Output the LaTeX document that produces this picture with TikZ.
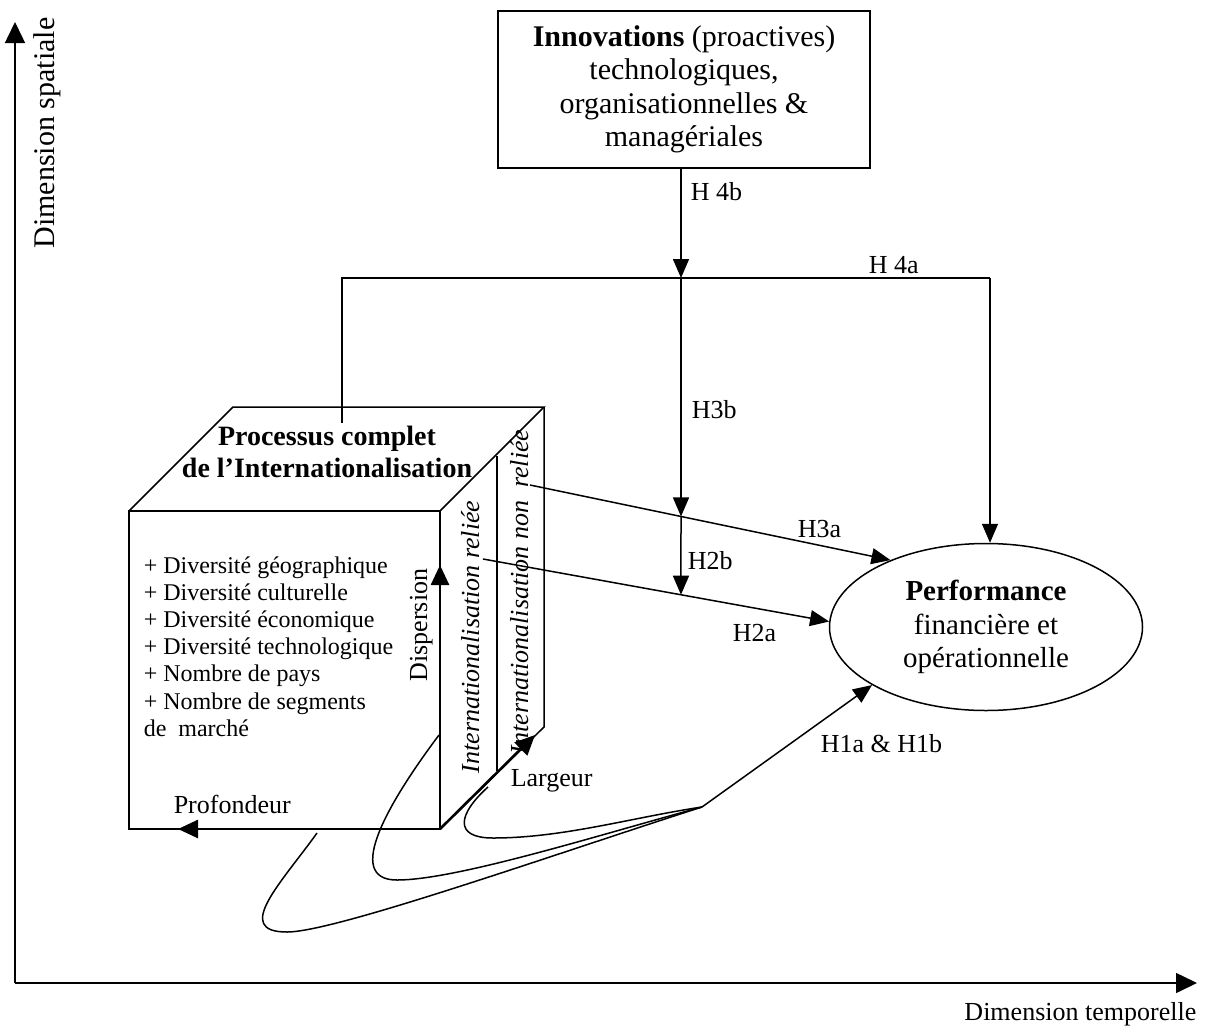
\documentclass[tikz,border=0pt]{standalone}
\usepackage{fontspec}
\setmainfont{Liberation Serif}
\usetikzlibrary{arrows.meta,calc,positioning,shapes.geometric}
\newcommand{\fsz}[2]{\fontsize{#1}{#2}\selectfont}

\begin{document}
\begin{tikzpicture}[x=1pt, y=-1pt, line width=1.5pt,
    every node/.style={inner sep=0pt, font=\fsz{26}{30}},
    hyp/.style={-{Triangle[length=19pt,width=16pt]}},
    dimaxis/.style={-{Triangle[length=21pt,width=20pt]}},
    cubearrow/.style={line width=2.6pt, -{Triangle[length=20pt,width=18pt]}},
    item/.style={anchor=base west, font=\fsz{24}{27}},
    bigtxt/.style={align=center, font=\fsz{30}{33.5}},
    sidetxt/.style={rotate=90, anchor=base, font=\itshape\fsz{26}{30}}]
  \useasboundingbox (0,0) rectangle (1207,1028);

  % axes
  \coordinate (O) at (15,983);
  \coordinate (ytop) at (15,22);
  \coordinate (xend) at (1197,983);
  \draw[dimaxis] (O) -- (ytop);
  \draw[dimaxis] (O) -- (xend);
  \node[rotate=90, anchor=base, font=\fsz{30}{34}] (dimsp) at (54,133) {Dimension spatiale};
  \node[anchor=base east] (dimtp) at (1197,1020) {Dimension temporelle};

  % cube
  \coordinate (A) at (129,829);
  \coordinate (B) at (440,829);
  \coordinate (C) at (440,511);
  \coordinate (D) at (129,511);
  \coordinate (E) at (233,407);
  \coordinate (G) at (544,407);
  \coordinate (H) at (544,727);
  \draw (A) -- (B) -- (C) -- (D) -- cycle;
  \draw (D) -- (E) -- (G) -- (C);
  \draw (G) -- (H) -- (B);
  \draw (497,456) -- (497,771);
  \coordinate (prof) at (178,829);
  \coordinate (disp) at (440,565);
  \coordinate (larg) at (535,735);
  \draw[cubearrow] (B) -- (prof);
  \draw[cubearrow] (B) -- (disp);
  \draw[cubearrow] (B) -- (larg);

  \node[font=\fsz{28}{32}\bfseries, anchor=base] (title1) at (327,445) {Processus complet};
  \node[font=\fsz{28}{32}\bfseries, anchor=base] (title2) at (327,477) {de l’Internationalisation};
  \foreach \t [count=\i from 0] in {+ Diversité géographique, + Diversité culturelle,
      + Diversité économique, + Diversité technologique, + Nombre de pays,
      + Nombre de segments, de\ \ marché}
    \node[item] (item\i) at (143,573+27.2*\i) {\t};
  \node[rotate=90, anchor=base] (displbl) at (427,625) {Dispersion};
  \node[sidetxt] (intrel) at (479,637) {Internationalisation reliée};
  \node[sidetxt] (intnon) at (528,592) {Internationalisation non\ \ reliée};
  \node[anchor=base west] (larglbl) at (510,786) {Largeur};
  \node[anchor=base west] (proflbl) at (173,813) {Profondeur};

  % innovations and performance
  \node[draw, bigtxt, minimum width=372pt, minimum height=157pt] (inno) at (684,89.5)
    {\textbf{Innovations} (proactives)\\technologiques,\\organisationnelles \&\\managériales};
  \node[draw, ellipse, bigtxt, font=\fsz{29}{33.5}, minimum width=313pt, minimum height=167pt] (perf) at (986,627)
    {\textbf{Performance}\\financière et\\opérationnelle};

  % hypotheses
  \coordinate (J4) at (681,278);
  \coordinate (Jb) at (681,700);
  \coordinate (L) at (342,278);
  \coordinate (R) at (990,278);
  \coordinate (Lc) at (342,423);
  \coordinate (s3) at (530,485);
  \coordinate (s2) at (483,559);
  \coordinate (t3) at (perf.145);
  \coordinate (t2) at (perf.178);
  \coordinate (J3) at (intersection of s3--t3 and J4--Jb);
  \coordinate (J2) at (intersection of s2--t2 and J4--Jb);
  \draw[hyp] (inno.south -| J4) -- (J4);
  \draw (Lc) -- (L) -- (R);
  \draw[hyp] (R) -- (R |- perf.north);
  \draw[hyp] (J4) -- (J3);
  \draw[hyp] (J3) -- (J2);
  \draw[hyp] (s3) -- (t3);
  \draw[hyp] (s2) -- (t2);

  \node[anchor=base west] (h4b) at (690,200) {H 4b};
  \node[anchor=base west] (h4a) at (868,273) {H 4a};
  \node[anchor=base west] (h3b) at (691,418) {H3b};
  \node[anchor=base west] (h2b) at (687,569) {H2b};
  \node[anchor=base west] (h3a) at (797,537) {H3a};
  \node[anchor=base west] (h2a) at (732,641) {H2a};
  \node[anchor=base west] (h1) at (820,752) {H1a \& H1b};

  % loops from the three directions
  \coordinate (P) at (702,807);
  \coordinate (eA) at (488,787);
  \coordinate (eB) at (439,735);
  \coordinate (eC) at (317,833);
  \draw (P) .. controls (632,817.5) and (563,838) .. (493,838)
            .. controls (453,838) and (458,814) .. (eA);
  \draw (P) .. controls (602,834) and (457,880) .. (397,880)
            .. controls (342,880) and (391,799) .. (eB);
  \draw (P) .. controls (552,855) and (335,932) .. (287,932)
            .. controls (232,932) and (282,882) .. (eC);
  \draw[hyp] (P) -- (perf.207);
\end{tikzpicture}
\end{document}
